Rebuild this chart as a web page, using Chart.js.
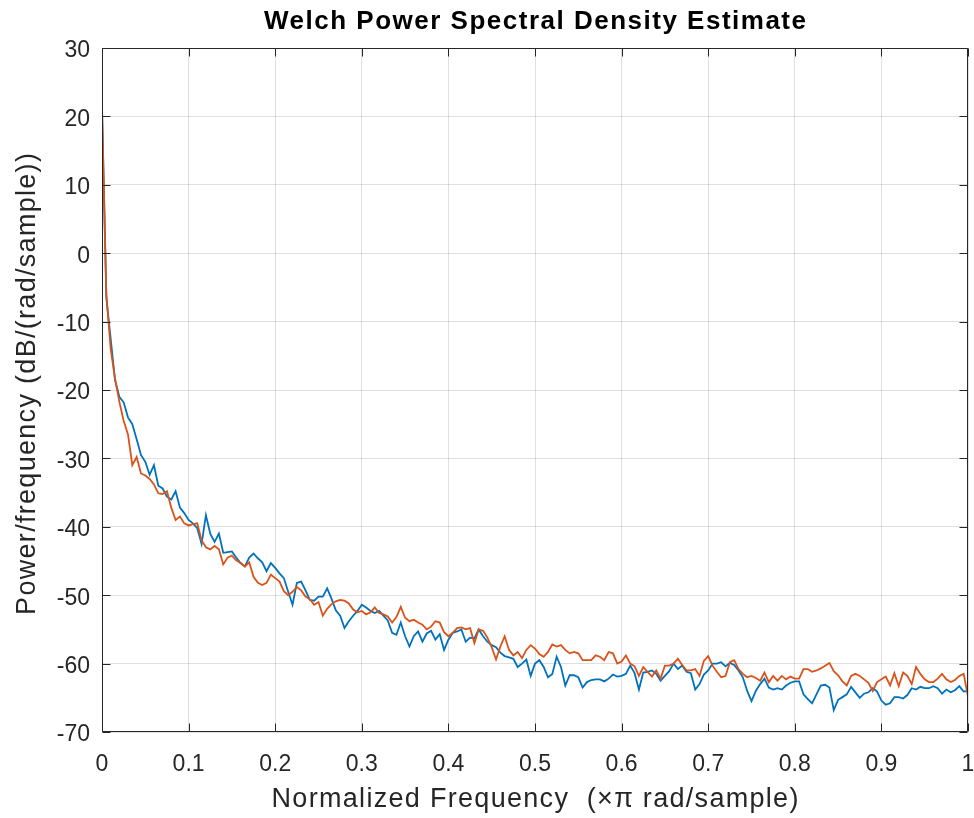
<!DOCTYPE html>
<html>
<head>
<meta charset="utf-8">
<script src="https://cdn.jsdelivr.net/npm/chart.js@4/dist/chart.umd.min.js"></script>
<style>
  html, body { margin: 0; padding: 0; background: #ffffff; }
  #wrap { width: 974px; height: 818px; position: relative; }
  canvas { display: block; }
</style>
</head>
<body>
<div id="wrap"><canvas id="c" width="974" height="818"></canvas></div>
<script>
// ---------------- data ----------------
const chartTitle = 'Welch Power Spectral Density Estimate';
const xAxisLabel = 'Normalized Frequency  (\u00d7\u03c0 rad/sample)';
const yAxisLabel = 'Power/frequency (dB/(rad/sample))';

const xTickLabels = ['0', '0.1', '0.2', '0.3', '0.4', '0.5', '0.6', '0.7', '0.8', '0.9', '1'];
const yTickLabels = ['-70', '-60', '-50', '-40', '-30', '-20', '-10', '0', '10', '20', '30'];

// frequency grid (x pi rad/sample), step 0.005
const freqStep = 0.005;

// series 1 (blue), dB/(rad/sample)
const psdBlue = [
  21.0, -6.5, -12.5, -18.5, -21.0, -21.8, -24.0, -25.0, -27.2, -29.5,
  -30.5, -32.4, -31.0, -34.0, -34.4, -35.6, -36.0, -34.8, -37.2, -38.0,
  -39.0, -39.5, -40.2, -42.5, -38.3, -41.0, -42.2, -41.0, -43.8, -43.7,
  -43.6, -44.5, -45.3, -45.8, -44.5, -43.9, -44.6, -45.2, -46.5, -45.3,
  -46.0, -46.8, -47.5, -49.5, -51.4, -48.2, -48.0, -49.3, -50.7, -50.8,
  -50.2, -50.2, -49.0, -50.5, -52.2, -53.0, -54.8, -53.8, -53.0, -52.3,
  -51.4, -51.8, -52.3, -52.6, -52.3, -53.0, -53.7, -55.5, -55.8, -54.0,
  -56.0, -57.5, -56.0, -55.3, -56.8, -55.6, -55.2, -56.5, -55.7, -58.0,
  -56.5, -55.5, -55.3, -55.0, -56.8, -56.2, -56.3, -55.0, -56.0, -56.8,
  -57.3, -57.6, -58.4, -58.9, -59.1, -59.3, -60.5, -60.0, -59.4, -61.8,
  -60.0, -59.5, -60.5, -62.0, -61.5, -59.0, -60.5, -63.2, -61.7, -61.7,
  -62.0, -63.5, -62.7, -62.4, -62.3, -62.3, -62.6, -62.2, -61.6, -61.9,
  -61.8, -61.5, -60.3, -61.4, -63.8, -61.3, -61.2, -61.0, -61.5, -62.5,
  -61.8, -61.1, -60.0, -60.8, -60.3, -61.2, -61.4, -63.8, -63.0, -61.6,
  -61.0, -60.0, -60.0, -59.8, -60.4, -59.9, -60.2, -61.0, -62.0, -64.0,
  -65.5, -64.0, -63.0, -62.2, -63.5, -63.8, -63.6, -63.8, -63.2, -62.8,
  -62.6, -62.6, -64.5, -65.2, -65.8, -64.5, -63.2, -63.1, -63.5, -66.8,
  -65.3, -64.9, -64.5, -63.4, -64.2, -65.0, -64.4, -64.2, -63.6, -64.1,
  -65.4, -66.0, -65.8, -64.9, -64.9, -65.1, -64.6, -63.6, -63.8, -63.4,
  -63.6, -63.6, -63.3, -63.6, -64.4, -63.8, -64.2, -63.9, -63.3, -64.1,
  -64.0
];

// series 2 (orange), dB/(rad/sample)
const psdOrange = [
  21.5, -6.0, -14.0, -18.3, -21.7, -24.5, -26.5, -31.0, -29.8, -32.2,
  -32.5, -33.0, -33.8, -35.1, -35.2, -34.8, -37.2, -39.0, -38.5, -39.5,
  -39.8, -39.6, -39.5, -42.0, -43.0, -43.3, -42.8, -43.3, -45.5, -44.5,
  -44.2, -44.9, -45.3, -45.8, -45.2, -47.3, -48.2, -48.5, -48.2, -47.0,
  -47.5, -48.0, -49.4, -50.0, -49.5, -48.8, -49.3, -50.2, -50.6, -51.4,
  -51.0, -53.0, -52.0, -51.3, -50.9, -50.7, -50.8, -51.2, -52.1, -52.5,
  -52.3, -52.8, -52.5, -51.8, -52.6, -52.8, -53.1, -54.0, -53.2, -51.7,
  -53.3, -53.8, -53.6, -54.0, -54.3, -55.0, -54.6, -53.8, -54.0, -55.4,
  -56.0, -55.5, -54.8, -54.7, -55.0, -54.8, -57.0, -55.0, -55.2, -56.2,
  -57.6, -59.4, -57.5, -56.0, -58.0, -58.8, -58.3, -59.2, -58.0, -57.3,
  -57.8, -58.6, -59.0, -58.3, -57.2, -57.5, -57.3, -58.0, -58.5, -58.3,
  -58.5, -59.5, -59.5, -59.5, -58.8, -59.0, -59.5, -58.3, -58.5, -60.0,
  -59.7, -58.8, -60.0, -60.4, -61.8, -60.5, -61.2, -61.9, -61.0, -62.2,
  -60.3, -60.3, -60.0, -59.3, -60.2, -61.0, -61.0, -60.8, -61.8, -59.6,
  -58.9, -60.3, -61.2, -62.0, -61.8, -59.8, -59.5, -60.8, -61.5, -62.0,
  -61.8, -62.1, -62.5, -61.3, -62.7, -61.8, -62.5, -61.8, -62.3, -61.9,
  -62.2, -62.2, -60.8, -60.8, -61.2, -61.0, -60.7, -60.3, -59.9, -61.1,
  -61.7, -62.6, -63.2, -61.8, -61.5, -61.8, -62.3, -62.8, -64.0, -62.7,
  -62.3, -61.9, -63.2, -61.4, -63.3, -61.3, -61.8, -63.0, -60.5, -61.5,
  -62.3, -62.7, -62.7, -62.2, -61.5, -62.3, -62.7, -62.4, -61.8, -61.5,
  -64.8
];

// ---------------- chart ----------------
const FONT = '"Liberation Sans", Arial, Helvetica, sans-serif';
const AXIS_COLOR = '#262626';

const toPoints = (arr) => arr.map((v, i) => ({ x: +(i * freqStep).toFixed(4), y: v }));

function spacedText(ctx, text, x, y, spacing) {
  if ('letterSpacing' in ctx) {
    ctx.letterSpacing = spacing + 'px';
    ctx.fillText(text, x + spacing / 2, y);
    ctx.letterSpacing = '0px';
  } else {
    ctx.fillText(text, x, y);
  }
}

const boxPlugin = {
  id: 'matlabBox',
  afterDraw(chart) {
    const { ctx, chartArea: a, scales } = chart;
    const xs = scales.x, ys = scales.y;
    const L = Math.round(a.left) + 0.5, R = Math.round(a.right) - 0.5;
    const T = Math.round(a.top) + 0.5, B = Math.round(a.bottom) - 0.5;
    const tl = 8;
    ctx.save();
    ctx.strokeStyle = AXIS_COLOR;
    ctx.lineWidth = 1;
    ctx.beginPath();
    ctx.rect(L, T, R - L, B - T);
    xs.ticks.forEach(t => {
      const p = Math.round(xs.getPixelForValue(t.value)) + 0.5;
      ctx.moveTo(p, B); ctx.lineTo(p, B - tl);
      ctx.moveTo(p, T); ctx.lineTo(p, T + tl);
    });
    ys.ticks.forEach(t => {
      const p = Math.round(ys.getPixelForValue(t.value)) + 0.5;
      ctx.moveTo(L, p); ctx.lineTo(L + tl, p);
      ctx.moveTo(R, p); ctx.lineTo(R - tl, p);
    });
    ctx.stroke();

    // titles
    const cx = (a.left + a.right) / 2;
    const cy = (a.top + a.bottom) / 2;
    ctx.textAlign = 'center';
    ctx.textBaseline = 'middle';
    ctx.fillStyle = '#000000';
    ctx.font = 'bold 26px ' + FONT;
    spacedText(ctx, chartTitle, cx, 22, 1.5);

    ctx.fillStyle = AXIS_COLOR;
    ctx.font = '27px ' + FONT;
    spacedText(ctx, xAxisLabel, cx, 800, 1.3);

    ctx.translate(28, cy - 6);
    ctx.rotate(-Math.PI / 2);
    spacedText(ctx, yAxisLabel, 0, 0, 1.3);
    ctx.restore();
  }
};

new Chart(document.getElementById('c'), {
  type: 'line',
  data: {
    datasets: [
      {
        label: 'Channel 1',
        data: toPoints(psdBlue),
        borderColor: '#0072BD',
        borderWidth: 1.8,
        pointRadius: 0,
        tension: 0,
        fill: false,
        order: 1
      },
      {
        label: 'Channel 2',
        data: toPoints(psdOrange),
        borderColor: '#D95319',
        borderWidth: 1.8,
        pointRadius: 0,
        tension: 0,
        fill: false,
        order: 0
      }
    ]
  },
  options: {
    responsive: false,
    animation: false,
    devicePixelRatio: 1,
    layout: { padding: { left: 0, right: 6, top: 48, bottom: 0 } },
    plugins: {
      legend: { display: false },
      tooltip: { enabled: false },
      title: { display: false }
    },
    scales: {
      x: {
        type: 'linear',
        min: 0,
        max: 1,
        grid: { color: 'rgba(38,38,38,0.15)', lineWidth: 1, drawTicks: false },
        border: { display: false },
        ticks: {
          stepSize: 0.1,
          autoSkip: false,
          maxRotation: 0,
          padding: 19,
          color: AXIS_COLOR,
          font: { family: FONT, size: 23 },
          callback: (v, i) => xTickLabels[i]
        },
        title: { display: false },
        afterFit(scale) {
          scale.height = 86;
          scale.paddingLeft = 0;
          scale.paddingRight = 0;
        }
      },
      y: {
        type: 'linear',
        min: -70,
        max: 30,
        grid: { color: 'rgba(38,38,38,0.15)', lineWidth: 1, drawTicks: false },
        border: { display: false },
        ticks: {
          stepSize: 10,
          autoSkip: false,
          padding: 12,
          labelOffset: 3,
          color: AXIS_COLOR,
          font: { family: FONT, size: 23 },
          callback: (v, i) => yTickLabels[i]
        },
        title: { display: false },
        afterFit(scale) {
          scale.width = 102;
          scale.paddingTop = 0;
          scale.paddingBottom = 0;
        }
      }
    }
  },
  plugins: [boxPlugin]
});
</script>
</body>
</html>
